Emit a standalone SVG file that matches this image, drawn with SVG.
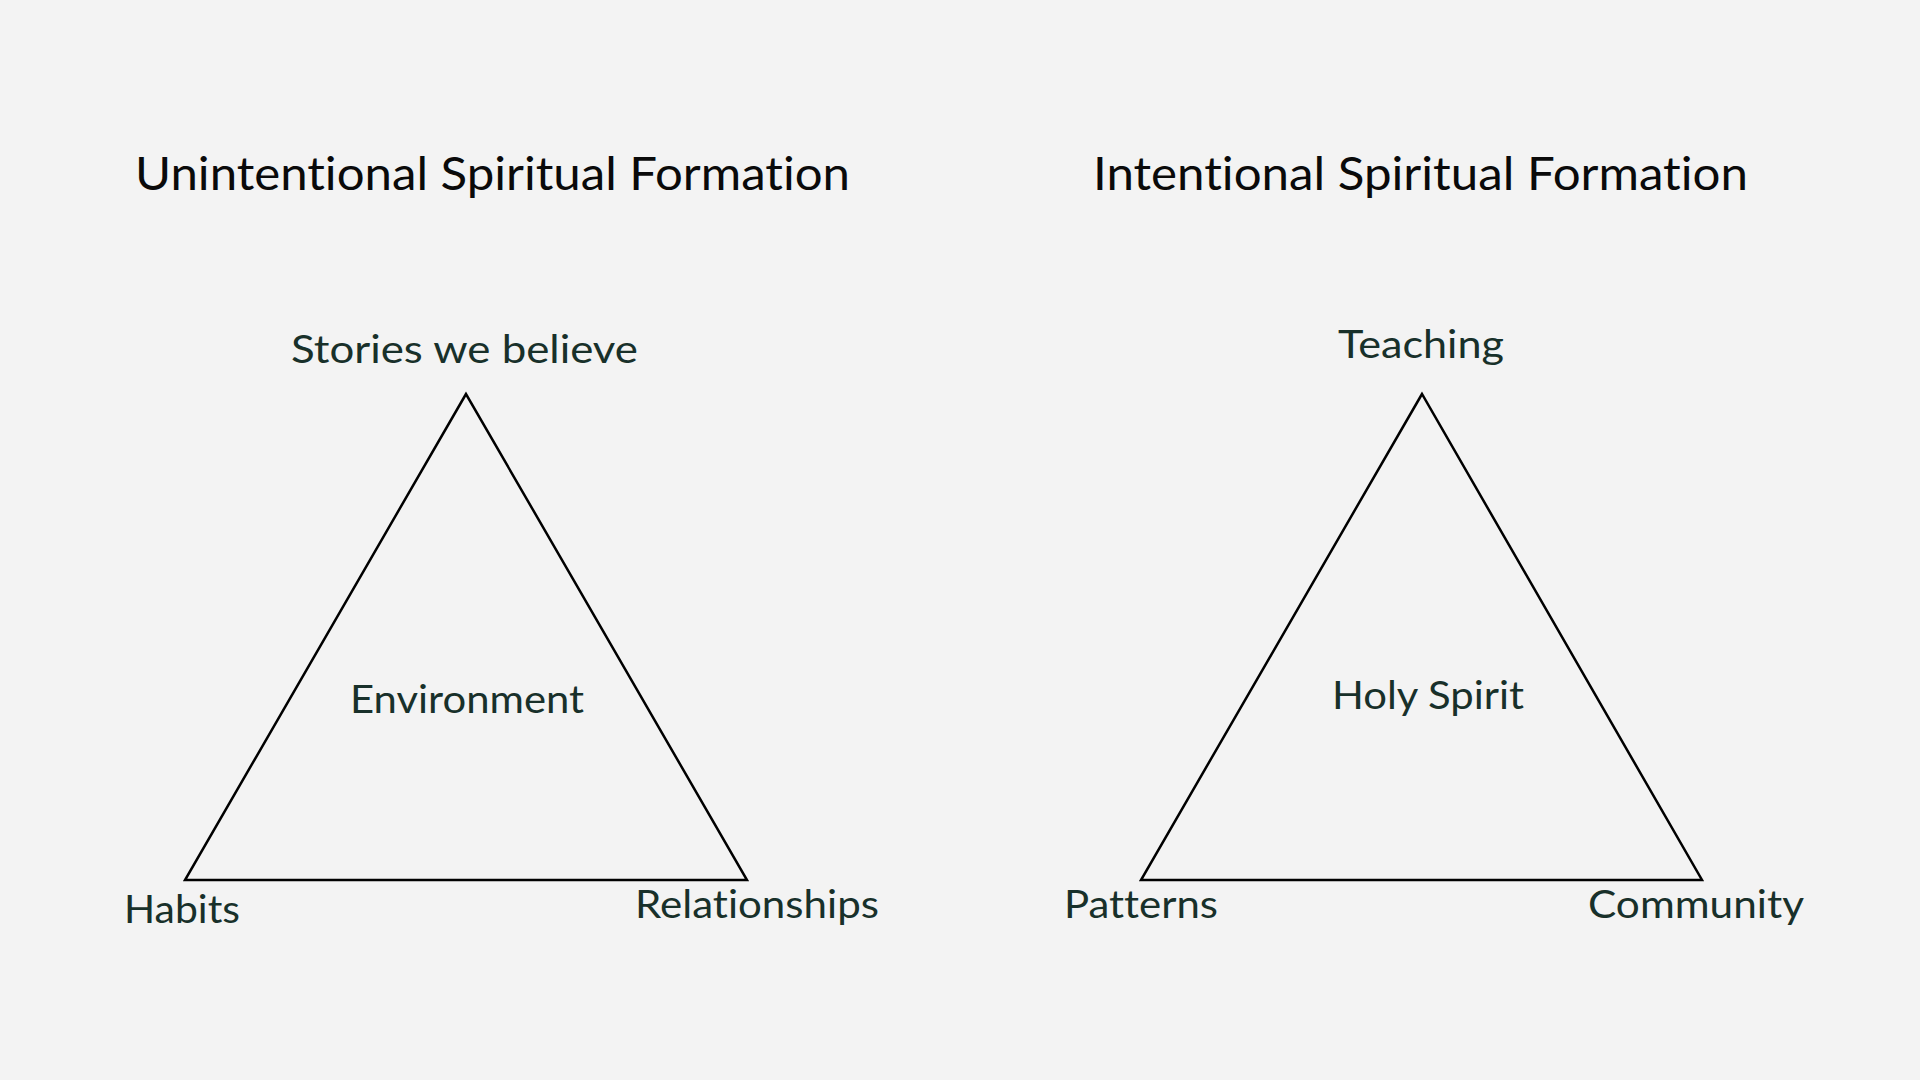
<svg xmlns="http://www.w3.org/2000/svg" width="1920" height="1080" viewBox="0 0 1920 1080">
<style>
text{font-variant-ligatures:none;font-feature-settings:"liga" 0,"clig" 0}
.title{font-family:Lato,"Liberation Sans",sans-serif;font-size:46px;fill:#0a0a0a}
.lbl{font-family:Lato,"Liberation Sans",sans-serif;font-size:39px;fill:#18302a}
.tri{fill:none;stroke:#000;stroke-width:2.5;stroke-linejoin:miter}
</style>
<rect width="1920" height="1080" fill="#f3f3f3"/>
<g id="titles">
<text class="title" x="135" y="190" textLength="715" lengthAdjust="spacingAndGlyphs">Unintentional Spiritual Formation</text>
<text class="title" x="1093" y="190" textLength="655" lengthAdjust="spacingAndGlyphs">Intentional Spiritual Formation</text>
</g>
<g id="connectors">
<polygon class="tri" points="466,394 185,880 747,880"/>
<polygon class="tri" points="1422,394 1141,880 1702,880"/>
</g>
<g id="node-stories"><text class="lbl" x="291" y="363" textLength="347" lengthAdjust="spacingAndGlyphs">Stories we believe</text></g>
<g id="node-environment"><text class="lbl" x="350" y="713" textLength="234" lengthAdjust="spacingAndGlyphs">Environment</text></g>
<g id="node-habits"><text class="lbl" x="124" y="923" textLength="116" lengthAdjust="spacingAndGlyphs">Habits</text></g>
<g id="node-relationships"><text class="lbl" x="635" y="918" textLength="244" lengthAdjust="spacingAndGlyphs">Relationships</text></g>
<g id="node-teaching"><text class="lbl" x="1338" y="358" textLength="166" lengthAdjust="spacingAndGlyphs">Teaching</text></g>
<g id="node-holyspirit"><text class="lbl" x="1332" y="709" textLength="192" lengthAdjust="spacingAndGlyphs">Holy Spirit</text></g>
<g id="node-patterns"><text class="lbl" x="1064" y="918" textLength="154" lengthAdjust="spacingAndGlyphs">Patterns</text></g>
<g id="node-community"><text class="lbl" x="1588" y="918" textLength="216" lengthAdjust="spacingAndGlyphs">Community</text></g>
</svg>
